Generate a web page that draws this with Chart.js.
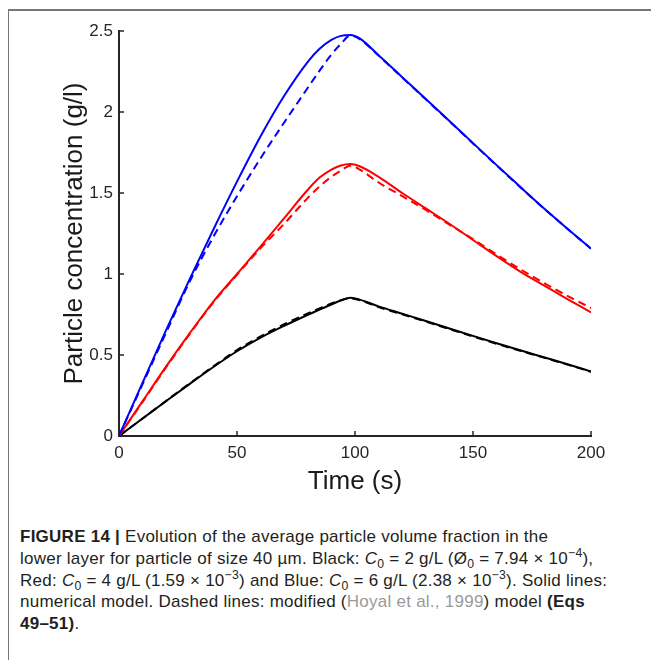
<!DOCTYPE html>
<html>
<head>
<meta charset="utf-8">
<script src="https://cdn.jsdelivr.net/npm/chart.js@4/dist/chart.umd.min.js"></script>
<style>
  html, body { margin: 0; padding: 0; background: #fff; }
  body { width: 651px; height: 660px; position: relative; overflow: hidden; }
  #frame { position: absolute; left: 8px; top: 9px; right: 0; bottom: 0;
           border-top: 2px solid #767676; border-left: 1.5px solid #767676; }
  #wrap { position: absolute; left: 0; top: 0; width: 651px; height: 500px; }
  .cap { position: absolute; left: 20px; top: 526px; font-family: "Liberation Sans", Arial, sans-serif;
         font-size: 17px; letter-spacing: 0.25px; line-height: 21.8px; color: #231f20; white-space: nowrap; }
  .cap sub, .cap sup { font-size: 72%; line-height: 0; }
  .cap .ref { color: #9a9a9a; }
</style>
</head>
<body>
<div id="frame"></div>
<div id="wrap"><canvas id="c" width="651" height="500"></canvas></div>
<div class="cap">
  <div><b>FIGURE 14 |</b> Evolution of the average particle volume fraction in the</div>
  <div>lower layer for particle of size 40 µm. Black: <i>C</i><sub>0</sub> = 2 g/L (Ø<sub>0</sub> = 7.94 × 10<sup>−4</sup>),</div>
  <div>Red: <i>C</i><sub>0</sub> = 4 g/L (1.59 × 10<sup>−3</sup>) and Blue: <i>C</i><sub>0</sub> = 6 g/L (2.38 × 10<sup>−3</sup>). Solid lines:</div>
  <div>numerical model. Dashed lines: modified (<span class="ref">Hoyal et al., 1999</span>) model <b>(Eqs</b></div>
  <div><b>49–51)</b>.</div>
</div>
<script>
// ---- data ----
const timeS = [0, 10, 20, 30, 40, 50, 60, 70, 80, 85, 90, 94, 98, 102, 110, 120, 130, 140, 150, 160, 170, 180, 190, 200];

const blueSolid   = [0, 0.33, 0.655, 0.97, 1.275, 1.57, 1.85, 2.10, 2.31, 2.39, 2.445, 2.47, 2.476, 2.455, 2.35, 2.215, 2.08, 1.945, 1.808, 1.672, 1.538, 1.406, 1.28, 1.157];
const blueDashed  = [0, 0.32, 0.64, 0.955, 1.23, 1.48, 1.715, 1.935, 2.15, 2.255, 2.355, 2.42, 2.472, 2.45, 2.348, 2.213, 2.078, 1.943, 1.806, 1.67, 1.536, 1.405, 1.279, 1.156];
const redSolid    = [0, 0.215, 0.43, 0.635, 0.83, 1.0, 1.17, 1.345, 1.52, 1.595, 1.645, 1.670, 1.679, 1.665, 1.60, 1.50, 1.405, 1.31, 1.21, 1.11, 1.015, 0.93, 0.845, 0.763];
const redDashed   = [0, 0.21, 0.425, 0.63, 0.825, 0.995, 1.16, 1.31, 1.47, 1.54, 1.60, 1.638, 1.668, 1.645, 1.565, 1.48, 1.395, 1.305, 1.215, 1.12, 1.03, 0.945, 0.865, 0.79];
const blackSolid  = [0, 0.108, 0.216, 0.322, 0.426, 0.523, 0.607, 0.68, 0.748, 0.781, 0.812, 0.836, 0.853, 0.842, 0.80, 0.755, 0.71, 0.664, 0.618, 0.573, 0.529, 0.486, 0.443, 0.398];
const blackDashed = [0, 0.108, 0.217, 0.325, 0.43, 0.53, 0.615, 0.69, 0.757, 0.788, 0.818, 0.838, 0.85, 0.838, 0.796, 0.751, 0.706, 0.66, 0.614, 0.569, 0.526, 0.484, 0.441, 0.396];

const xTicks = [0, 50, 100, 150, 200];
const yTicks = [0, 0.5, 1, 1.5, 2, 2.5];

const xTitle = 'Time (s)';
const yTitle = 'Particle concentration (g/l)';

// ---- chart ----
const pts = arr => arr.map((v, i) => ({ x: timeS[i], y: v }));
const mk = (vals, color, dashed) => ({
  data: pts(vals),
  borderColor: color,
  borderWidth: 2,
  borderDash: dashed ? [8, 5] : [],
  pointRadius: 0,
  fill: false,
  cubicInterpolationMode: 'monotone',
  order: dashed ? 0 : 1
});

const axisColor = '#262626';

const innerTicks = {
  id: 'innerTicks',
  beforeDatasetsDraw(chart) {
    const { ctx, chartArea: a, scales: { x, y } } = chart;
    ctx.save();
    ctx.strokeStyle = axisColor;
    ctx.lineWidth = 1.5;
    x.ticks.forEach(t => {
      const px = x.getPixelForValue(t.value);
      ctx.beginPath(); ctx.moveTo(px, a.bottom); ctx.lineTo(px, a.bottom - 5); ctx.stroke();
    });
    y.ticks.forEach(t => {
      const py = y.getPixelForValue(t.value);
      ctx.beginPath(); ctx.moveTo(a.left, py); ctx.lineTo(a.left + 5, py); ctx.stroke();
    });
    ctx.restore();
  }
};

const tickFont = { family: '"Liberation Sans", Arial, sans-serif', size: 17 };
const titleFont = { family: '"Liberation Sans", Arial, sans-serif', size: 26 };

new Chart(document.getElementById('c'), {
  type: 'line',
  data: {
    datasets: [
      mk(blueSolid, '#0000ff', false),
      mk(redSolid, '#ff0000', false),
      mk(blackSolid, '#000000', false),
      mk(blueDashed, '#0000ff', true),
      mk(redDashed, '#ff0000', true),
      mk(blackDashed, '#000000', true)
    ]
  },
  options: {
    responsive: false,
    animation: false,
    devicePixelRatio: 1,
    layout: { padding: { left: 0, top: 31, right: 60, bottom: 0 } },
    plugins: { legend: { display: false }, tooltip: { enabled: false } },
    scales: {
      x: {
        type: 'linear', min: 0, max: 200,
        afterBuildTicks: s => { s.ticks = xTicks.map(v => ({ value: v })); },
        afterFit: s => { s.height = 64; },
        grid: { display: false, drawTicks: false },
        border: { display: true, color: axisColor, width: 2 },
        ticks: { color: axisColor, font: tickFont, padding: 7, maxRotation: 0, callback: v => String(v) },
        title: { display: true, text: xTitle, color: '#1a1a1a', font: titleFont, padding: { top: 0, bottom: 2.4 } }
      },
      y: {
        type: 'linear', min: 0, max: 2.5,
        afterBuildTicks: s => { s.ticks = yTicks.map(v => ({ value: v })); },
        afterFit: s => { s.width = 119; },
        grid: { display: false, drawTicks: false },
        border: { display: true, color: axisColor, width: 2 },
        ticks: { color: axisColor, font: tickFont, padding: 6, callback: v => String(v) },
        title: { display: true, text: yTitle, color: '#1a1a1a', font: titleFont, padding: { top: 59.4, bottom: 0 } }
      }
    }
  },
  plugins: [innerTicks]
});
</script>
</body>
</html>
